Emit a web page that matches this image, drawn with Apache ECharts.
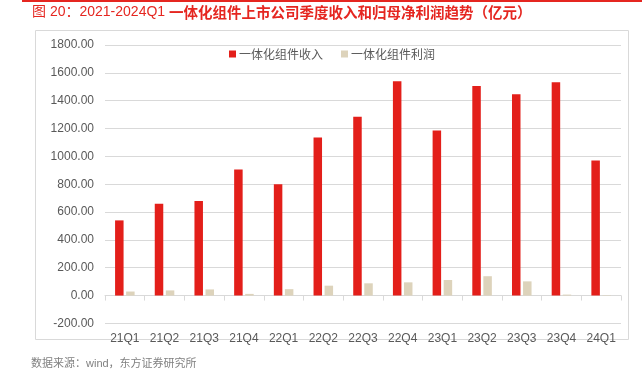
<!DOCTYPE html>
<html><head><meta charset="utf-8">
<script src="https://cdn.jsdelivr.net/npm/echarts@6/dist/echarts.min.js"></script>
<style>html,body{margin:0;padding:0;background:#fff}#c{width:642px;height:372px}</style>
</head><body><div id="c"></div>
<script>
const categories = ['21Q1','21Q2','21Q3','21Q4','22Q1','22Q2','22Q3','22Q4','23Q1','23Q2','23Q3','23Q4','24Q1'];
const revenue = [540, 660, 680, 905, 800, 1135, 1285, 1540, 1185, 1505, 1447, 1532, 970];
const profit = [29, 37, 44, 12, 46, 71, 88, 95, 112, 139, 102, 7, -3];
const seriesNames = ['一体化组件收入', '一体化组件利润'];
const yTicks = {min: -200, max: 1800, interval: 200};
const titlePrefix = '图 20：2021-2024Q1 ';
const titleMain = '一体化组件上市公司季度收入和归母净利润趋势（亿元）';
const sourceText = '数据来源：wind，东方证券研究所';

const chart = echarts.init(document.getElementById('c'), null, {renderer: 'canvas'});
const cjk = '"Noto Sans CJK SC", sans-serif';
const num = '"Liberation Sans", "Noto Sans CJK SC", sans-serif';
chart.setOption({
  animation: false,
  textStyle: {fontFamily: num},
  graphic: [
    {type: 'line', shape: {x1: 22, y1: 1, x2: 642, y2: 1}, style: {stroke: '#e52620', lineWidth: 2}},
    {type: 'rect', shape: {x: 35.5, y: 30.5, width: 593, height: 309}, style: {fill: 'none', stroke: '#d9d9d9', lineWidth: 1}},
    {type: 'text', left: 32, top: 5, style: {
      text: '{a|' + titlePrefix + '}{b|' + titleMain + '}',
      rich: {
        a: {fill: '#e52620', fontSize: 14, fontFamily: num, fontWeight: 'normal'},
        b: {fill: '#e52620', fontSize: 14.5, fontFamily: cjk, fontWeight: 'bold'}
      }
    }},
    {type: 'text', left: 31, top: 358, style: {text: sourceText, fill: '#808080', font: '11px ' + num}}
  ],
  legend: {
    top: 43, left: 224,
    itemWidth: 7, itemHeight: 7, itemGap: 18,
    icon: 'rect',
    textStyle: {color: '#595959', fontSize: 12, fontFamily: cjk, padding: [0, 0, 0, -2]},
    data: seriesNames
  },
  grid: {left: 105, right: 21, top: 45, bottom: 48.6, containLabel: false},
  xAxis: {
    type: 'category', data: categories,
    axisLine: {onZero: true, lineStyle: {color: '#d9d9d9'}},
    axisTick: {show: true, length: 5, lineStyle: {color: '#d9d9d9'}},
    axisLabel: {color: '#595959', fontSize: 12, fontFamily: num, margin: 9}
  },
  yAxis: {
    type: 'value', min: yTicks.min, max: yTicks.max, interval: yTicks.interval,
    axisLine: {show: false}, axisTick: {show: false},
    axisLabel: {color: '#595959', fontSize: 12, fontFamily: num, margin: 11, formatter: v => v.toFixed(2)},
    splitLine: {lineStyle: {color: '#d9d9d9', width: 1}}
  },
  series: [
    {name: seriesNames[0], type: 'bar', data: revenue, barWidth: 8.5, barGap: '30%', itemStyle: {color: '#e31f1a'}},
    {name: seriesNames[1], type: 'bar', data: profit, barWidth: 8.5, barGap: '30%', itemStyle: {color: '#ddd3bb'}}
  ]
});
</script></body></html>
